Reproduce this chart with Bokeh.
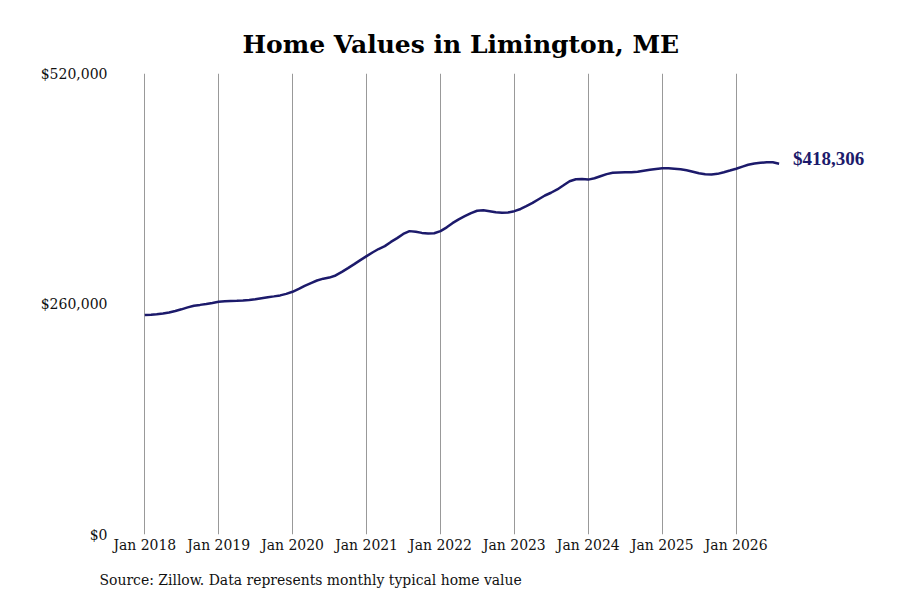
import pandas as pd
from bokeh.plotting import figure
from bokeh.models import (ColumnDataSource, FixedTicker, DatetimeTickFormatter,
                          NumeralTickFormatter, Title)
from bokeh.embed import file_html
from bokeh.resources import INLINE

# monthly typical home value, Jan 2018 onwards
values = [
    247600, 248000, 248500, 249300, 250400, 252100, 254000, 256200, 258100, 259000, 260000, 261200,
    262600, 263000, 263300, 263600, 264000, 264500, 265400, 266600, 267700, 268600, 269700, 271400,
    273800, 277000, 280400, 283600, 286500, 288600, 289800, 292200, 296200, 300500, 305000, 309500,
    314000, 318400, 322000, 325300, 330000, 334300, 339000, 342200, 341600, 340200, 339600, 339800,
    342200, 346500, 351200, 355500, 359000, 362500, 365200, 365800, 364700, 363500, 362800, 363300,
    364700, 367200, 370300, 374000, 378200, 382400, 385500, 389200, 393900, 398500, 400700, 400900,
    400300, 401800, 404100, 406500, 408000, 408400, 408600, 408600, 409100, 410300, 411400, 412400,
    413100, 413000, 412500, 411900, 410800, 409100, 407400, 406300, 406000, 406800, 408600, 410500,
    412500, 415000, 417000, 418400, 419300, 419800, 419800, 418306,
]
start_month = "2018-01-01"
tick_years = [2018, 2019, 2020, 2021, 2022, 2023, 2024, 2025, 2026]
y_ticks = [0, 260000, 520000]
last_label = "$418,306"

dates = pd.date_range(start_month, periods=len(values), freq="MS")
src = ColumnDataSource(dict(date=dates, value=values))

def ms(ts):
    return ts.value / 1e6

x_start = pd.Timestamp("2017-12-01")
x_end = pd.Timestamp("2027-12-15")

p = figure(width=884, height=600, x_axis_type="datetime",
           x_range=(x_start, x_end), y_range=(0, 520000),
           toolbar_location=None, output_backend="svg",
           min_border_left=138, min_border_right=4,
           min_border_top=73, min_border_bottom=65)
p.outline_line_color = None
p.background_fill_color = "white"

p.line("date", "value", source=src, line_color="#1c1a6b", line_width=2.5)
p.text([dates[-1]], [values[-1]], text=[last_label], x_offset=14, y_offset=-5,
       text_baseline="middle", text_font="DejaVu Serif", text_font_style="bold",
       text_font_size="19px", text_color="#1c1a6b")

p.xaxis.ticker = FixedTicker(ticks=[ms(pd.Timestamp(f"{y}-01-01")) for y in tick_years])
p.xaxis.formatter = DatetimeTickFormatter(years="%b %Y", months="%b %Y", days="%b %Y")
p.yaxis.ticker = FixedTicker(ticks=y_ticks)
p.yaxis.formatter = NumeralTickFormatter(format="$0,0")

for ax in (p.xaxis, p.yaxis):
    ax.axis_line_color = None
    ax.major_tick_line_color = None
    ax.minor_tick_line_color = None
    ax.major_label_text_color = "#111111"
p.xaxis.major_label_text_font = "DejaVu Serif Condensed"
p.xaxis.major_label_text_font_size = "15.5px"
p.xaxis.major_label_standoff = -5
p.yaxis.major_label_text_font = "DejaVu Serif"
p.yaxis.major_label_text_font_size = "14px"
p.yaxis.major_label_standoff = 25

p.xgrid.grid_line_color = "#999999"
p.xgrid.grid_line_width = 1
p.ygrid.grid_line_color = None

p.title.text = "Home Values in Limington, ME"
p.title.align = "left"
p.title.offset = 104
p.title.text_font = "DejaVu Serif"
p.title.text_font_size = "25px"
p.title.text_font_style = "bold"
p.title.text_color = "black"
p.title.standoff = 30

p.add_layout(Title(text="Source: Zillow. Data represents monthly typical home value",
                   align="left", offset=-39, text_font="DejaVu Serif Condensed",
                   text_font_size="15.5px", text_font_style="normal",
                   text_color="#111111", standoff=24), "below")

open("out.html", "w").write(file_html(p, INLINE))
